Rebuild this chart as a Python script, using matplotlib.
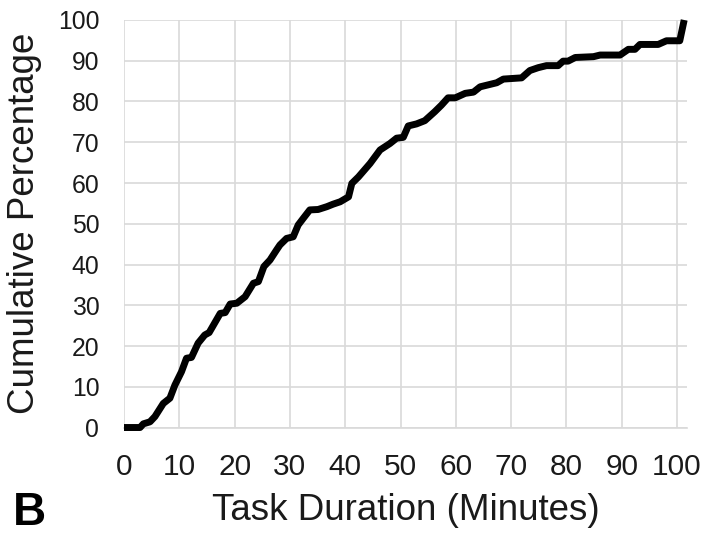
import numpy as np
import matplotlib
matplotlib.use("Agg")
import matplotlib.pyplot as plt

plt.rcParams['font.family'] = ['Liberation Sans', 'DejaVu Sans']

# cumulative distribution of task duration
duration = [0, 2.9, 3.5, 4.7, 5.6, 7.1, 8.3, 9.2, 10.4, 11.3, 12.2, 13.4, 14.6, 15.4,
            17.4, 18.3, 19.2, 20.4, 21.9, 23.4, 24.3, 25.3, 26.4, 27.6, 28.2, 29.4,
            30.6, 31.5, 32.4, 33.6, 35.1, 36.7, 37.8, 39.1, 40.6, 41.2, 42.4, 44.5,
            46.3, 48.1, 49.3, 50.5, 51.4, 52.9, 54.4, 56.2, 57.4, 58.6, 59.9, 61.7,
            63.2, 64.4, 66.2, 67.4, 68.6, 71.9, 73.4, 74.9, 76.4, 78.5, 79.4, 80.3,
            81.6, 84.9, 86.1, 89.7, 91.2, 92.4, 93.3, 96.6, 98.1, 100.5, 101.3]
cum_pct = [0, 0, 0.9, 1.4, 2.7, 5.9, 7.2, 10.4, 13.7, 17.0, 17.2, 20.7, 22.7, 23.3,
           28.0, 28.2, 30.3, 30.5, 32.1, 35.4, 35.8, 39.5, 41.1, 43.6, 44.8, 46.4,
           46.8, 49.7, 51.3, 53.4, 53.5, 54.2, 54.8, 55.4, 56.6, 59.9, 61.5, 64.8,
           68.1, 69.7, 71.0, 71.2, 74.0, 74.5, 75.3, 77.5, 79.1, 80.9, 80.9, 82.0,
           82.3, 83.6, 84.2, 84.6, 85.5, 85.8, 87.6, 88.3, 88.8, 88.8, 89.9, 89.9,
           90.8, 91.0, 91.4, 91.4, 92.8, 92.8, 94.0, 94.0, 94.9, 94.9, 100]

xticks = list(range(0, 101, 10))
yticks = list(range(0, 101, 10))

fig = plt.figure(figsize=(7.09, 5.36), dpi=100)
ax = fig.add_axes([0.1749, 0.2024, 0.794, 0.7603])

ax.plot(duration, cum_pct, color="black", linewidth=5, solid_joinstyle="round",
        solid_capstyle="butt", zorder=3, clip_on=False)

ax.set_xlim(0, 101.8)
ax.set_ylim(0, 100)
ax.set_xticks(xticks)
ax.set_yticks(yticks)
ax.grid(True, color="#d9d9d9", linewidth=1.2)
ax.set_axisbelow(True)
for s in ["top", "right", "left"]:
    ax.spines[s].set_visible(False)
ax.spines["bottom"].set_color("#d9d9d9")
ax.spines["bottom"].set_linewidth(1.2)

ax.tick_params(axis="x", length=0, pad=18.5, labelsize=21.5, labelcolor="#1a1a1a")
ax.tick_params(axis="y", length=0, pad=17.8, labelsize=17.8, labelcolor="#1a1a1a")

ax.set_xlabel("Task Duration (Minutes)", fontsize=26.5, color="#1a1a1a")
ax.xaxis.set_label_coords(0.5, -0.16)
ax.set_ylabel("Cumulative Percentage", fontsize=26.5, color="#1a1a1a")
ax.yaxis.set_label_coords(-0.146, 0.5)

fig.text(29 / 709, 1 / 536, "B", fontsize=33, fontweight="bold", ha="center", va="bottom")

fig.savefig("out.png", dpi=100)
